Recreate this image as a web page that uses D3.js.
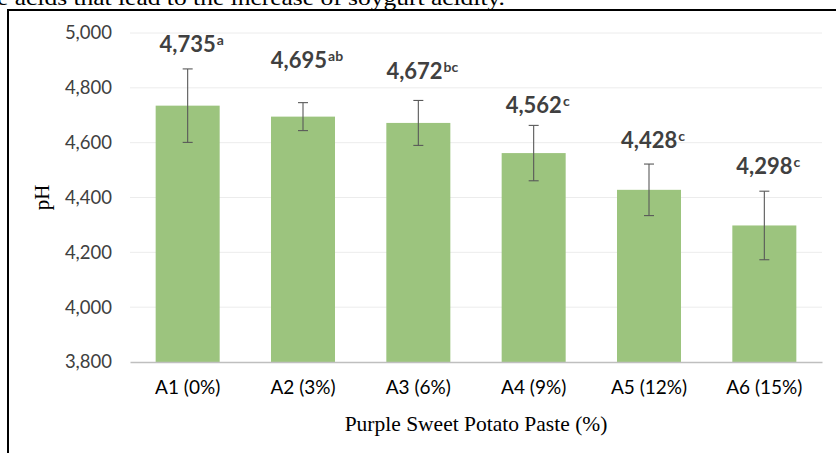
<!DOCTYPE html>
<html><head><meta charset="utf-8">
<script src="https://cdn.jsdelivr.net/npm/d3@7"></script>
<style>body{margin:0;background:#fff;overflow:hidden}svg{display:block}</style>
</head><body>
<svg id="c" width="836" height="453"></svg>
<script>
const categories = ["A1 (0%)", "A2 (3%)", "A3 (6%)", "A4 (9%)", "A5 (12%)", "A6 (15%)"];
const values = [4735, 4695, 4672, 4562, 4428, 4298];
const errors = [134, 51, 82, 101, 94, 125];
const letters = ["a", "ab", "bc", "c", "c", "c"];
const yTicks = [3800, 4000, 4200, 4400, 4600, 4800, 5000];
const xTitle = "Purple Sweet Potato Paste (%)";
const yTitle = "pH";
const captionAbove = "e acids that lead to the increase of soygurt acidity.";

const svg = d3.select("#c");
const m = {left:130, right:822, top:33, bottom:362};
// pixel lift of each value label above its bar top (manual placement in original)
const labelLift = [54, 49, 44, 40, 42, 51];

// cut-off caption text and frame
svg.append("text").attr("x", -3).attr("y", 5)
  .attr("font-family", "Liberation Serif, Times New Roman, serif")
  .attr("font-size", 22).attr("textLength", 508).attr("lengthAdjust", "spacingAndGlyphs")
  .attr("fill", "#000").text(captionAbove);
svg.append("path").attr("d", "M8,453 V10 H836")
  .attr("fill", "none").attr("stroke", "#000").attr("stroke-width", 2);

const x = d3.scaleBand().domain(categories).range([m.left, m.right]).paddingInner(0.445).paddingOuter(0.2225);
const y = d3.scaleLinear().domain([3800, 5000]).range([m.bottom, m.top]);

// gridlines
svg.append("g").selectAll("line").data(yTicks.slice(1)).join("line")
  .attr("x1", m.left).attr("x2", m.right)
  .attr("y1", d => y(d)).attr("y2", d => y(d))
  .attr("stroke", "#ececec").attr("stroke-width", 1);

// y axis labels
const yAxis = svg.append("g").attr("transform", `translate(${m.left},0)`)
  .call(d3.axisLeft(y).tickValues(yTicks).tickSize(0).tickPadding(18).tickFormat(d3.format(",")));
yAxis.select(".domain").remove();
yAxis.selectAll("text").attr("font-family", "Lato, Calibri, sans-serif").attr("font-size", 18.5).attr("fill", "#404040");

// bars
svg.append("g").selectAll("rect").data(values).join("rect")
  .attr("x", (d,i) => x(categories[i])).attr("width", x.bandwidth())
  .attr("y", d => y(d)).attr("height", d => y(3800) - y(d))
  .attr("fill", "#9cc47e");

// x axis
const xAxis = svg.append("g").attr("transform", `translate(0,${m.bottom})`)
  .call(d3.axisBottom(x).tickSize(0).tickPadding(19));
xAxis.select(".domain").attr("stroke", "#bfbfbf").attr("stroke-width", 1.5);
xAxis.selectAll("text").attr("font-family", "Lato, Calibri, sans-serif").attr("font-size", 19).attr("fill", "#000");

// error bars
const eb = svg.append("g").attr("stroke", "#595959").attr("stroke-width", 1.1);
values.forEach((v,i) => {
  const cx = x(categories[i]) + x.bandwidth()/2;
  eb.append("line").attr("x1", cx).attr("x2", cx).attr("y1", y(v+errors[i])).attr("y2", y(v-errors[i]));
  [v+errors[i], v-errors[i]].forEach(e => eb.append("line").attr("x1", cx-5).attr("x2", cx+5).attr("y1", y(e)).attr("y2", y(e)));
});

// value labels
const fmt = d3.format(",");
values.forEach((v,i) => {
  const cx = x(categories[i]) + x.bandwidth()/2;
  const t = svg.append("text").attr("x", cx + 4).attr("y", y(v) - labelLift[i])
    .attr("text-anchor", "middle").attr("font-family", "Lato, Calibri, sans-serif")
    .attr("font-weight", "bold").attr("font-size", 22).attr("fill", "#404040");
  t.append("tspan").text(fmt(v));
  t.append("tspan").attr("font-size", 14).attr("dy", -7).attr("dx", 1).text(letters[i]);
});

// axis titles
svg.append("text").attr("x", (m.left+m.right)/2).attr("y", 431).attr("text-anchor", "middle")
  .attr("font-family", "Liberation Serif, Times New Roman, serif").attr("font-size", 21.5).attr("fill", "#000").text(xTitle);
svg.append("text").attr("transform", `translate(49,${(m.top+m.bottom)/2}) rotate(-90)`).attr("text-anchor", "middle")
  .attr("font-family", "Liberation Serif, Times New Roman, serif").attr("font-size", 21).attr("fill", "#000").text(yTitle);
</script>
</body></html>
